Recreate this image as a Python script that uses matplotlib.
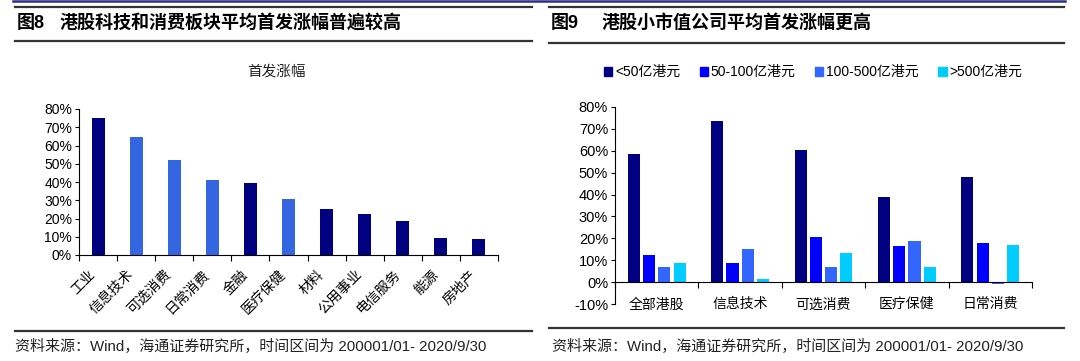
import matplotlib
matplotlib.use("Agg")
import matplotlib.pyplot as plt
import numpy as np
from matplotlib.lines import Line2D
from matplotlib.patches import Patch
from matplotlib.ticker import PercentFormatter, FixedLocator

plt.rcParams['font.family'] = ['Liberation Sans', 'Noto Sans CJK SC']
plt.rcParams['axes.unicode_minus'] = False

# left chart: average first-day gain by sector
sectors = ['工业', '信息技术', '可选消费', '日常消费', '金融', '医疗保健',
           '材料', '公用事业', '电信服务', '能源', '房地产']
gain = [0.752, 0.645, 0.520, 0.411, 0.393, 0.307, 0.250, 0.223, 0.184, 0.095, 0.088]
highlight = [False, True, True, True, False, True, False, False, False, False, False]

# right chart: by market cap bucket
groups = ['全部港股', '信息技术', '可选消费', '医疗保健', '日常消费']
caps = ['<50亿港元', '50-100亿港元', '100-500亿港元', '>500亿港元']
cap_vals = [
    [0.585, 0.735, 0.602, 0.388, 0.480],   # <50
    [0.126, 0.086, 0.206, 0.167, 0.179],   # 50-100
    [0.068, 0.152, 0.068, 0.188, -0.008],  # 100-500
    [0.086, 0.015, 0.135, 0.068, 0.170],   # >500
]
cap_colors = ['#000080', '#0000FF', '#3366FF', '#00CCFF']

W, H = 1080, 361
fig = plt.figure(figsize=(W / 100, H / 100), dpi=100)

def px(x, y):
    return x / W, 1 - y / H

def hline(x0, x1, y, color='#333333', lw=1.6):
    (a, b), (c, _) = px(x0, y), px(x1, y)
    fig.add_artist(Line2D([a, c], [b, b], color=color, lw=lw, transform=fig.transFigure))

# frame lines
hline(13, 1065, 1, color='#2E2E8A', lw=1.8)
hline(15, 532, 6.5); hline(549, 1064, 6.5)
hline(15, 532, 41); hline(549, 1064, 43)
hline(15, 532, 331); hline(549, 1064, 328)

# panel titles
fig.text(*px(17, 23), '图8', fontsize=13, fontweight='bold', va='center', ha='left')
fig.text(*px(60, 23), '港股科技和消费板块平均首发涨幅普遍较高', fontsize=13,
         fontweight='bold', va='center', ha='left')
fig.text(*px(551, 23), '图9', fontsize=13, fontweight='bold', va='center', ha='left')
fig.text(*px(602, 23), '港股小市值公司平均首发涨幅更高', fontsize=13,
         fontweight='bold', va='center', ha='left')

src = '资料来源：Wind，海通证券研究所，时间区间为 200001/01- 2020/9/30'
fig.text(*px(15, 347), src, fontsize=10.8, va='center', ha='left', color='#222222')
fig.text(*px(552, 347), src, fontsize=10.8, va='center', ha='left', color='#222222')

# ---------- left chart ----------
ax1 = fig.add_axes([79 / W, 1 - 255 / H, 419 / W, 146 / H])
x = np.arange(len(sectors))
cols = ['#3366E0' if h else '#000080' for h in highlight]
ax1.bar(x, gain, width=0.34, color=cols)
ax1.set_xlim(-0.5, len(sectors) - 0.5)
ax1.set_ylim(0, 0.8)
ax1.yaxis.set_major_formatter(PercentFormatter(1.0, decimals=0))
ax1.set_yticks(np.arange(0, 0.81, 0.1))
ax1.set_xticks(x)
ax1.set_xticklabels(sectors, rotation=45, ha='right', fontsize=10)
ax1.xaxis.set_minor_locator(FixedLocator(np.arange(-0.5, len(sectors), 1)))
ax1.tick_params(axis='x', which='major', length=0, pad=9)
ax1.tick_params(axis='x', which='minor', length=4, width=0.8, direction='out')
ax1.tick_params(axis='y', length=3, width=0.8, labelsize=10, pad=2)
for s in ['top', 'right']:
    ax1.spines[s].set_visible(False)
for s in ['left', 'bottom']:
    ax1.spines[s].set_linewidth(0.8)
fig.text(*px(276, 72), '首发涨幅', fontsize=10.5, ha='center', va='center', color='#222222')

# ---------- right chart ----------
ax2 = fig.add_axes([615 / W, 1 - 304 / H, 417 / W, 197 / H])
g = np.arange(len(groups))
bw = 0.145
pitch = 0.183
for i, (vals, c) in enumerate(zip(cap_vals, cap_colors)):
    ax2.bar(g + (i - 1.5) * pitch, vals, width=bw, color=c, label=caps[i])
ax2.set_xlim(-0.5, len(groups) - 0.5)
ax2.set_ylim(-0.1, 0.8)
ax2.yaxis.set_major_formatter(PercentFormatter(1.0, decimals=0))
ax2.set_yticks(np.arange(-0.1, 0.81, 0.1))
ax2.spines['bottom'].set_position(('data', 0))
ax2.set_xticks(g)
ax2.set_xticklabels(groups, fontsize=10)
ax2.xaxis.set_minor_locator(FixedLocator(np.arange(-0.5, len(groups), 1)))
ax2.tick_params(axis='x', which='major', length=0, pad=11)
ax2.tick_params(axis='x', which='minor', length=4, width=0.8, direction='out')
ax2.tick_params(axis='y', length=3, width=0.8, labelsize=10.5, pad=2)
for s in ['top', 'right']:
    ax2.spines[s].set_visible(False)
for s in ['left', 'bottom']:
    ax2.spines[s].set_linewidth(0.8)

handles = [Patch(color=c, label=l) for c, l in zip(cap_colors, caps)]
fig.legend(handles=handles, loc='center left', bbox_to_anchor=px(604, 72), ncol=4,
           frameon=False, fontsize=10, handlelength=0.6, handleheight=0.6,
           handletextpad=0.2, columnspacing=1.4, borderaxespad=0, borderpad=0)

fig.savefig('out.png', dpi=100)
